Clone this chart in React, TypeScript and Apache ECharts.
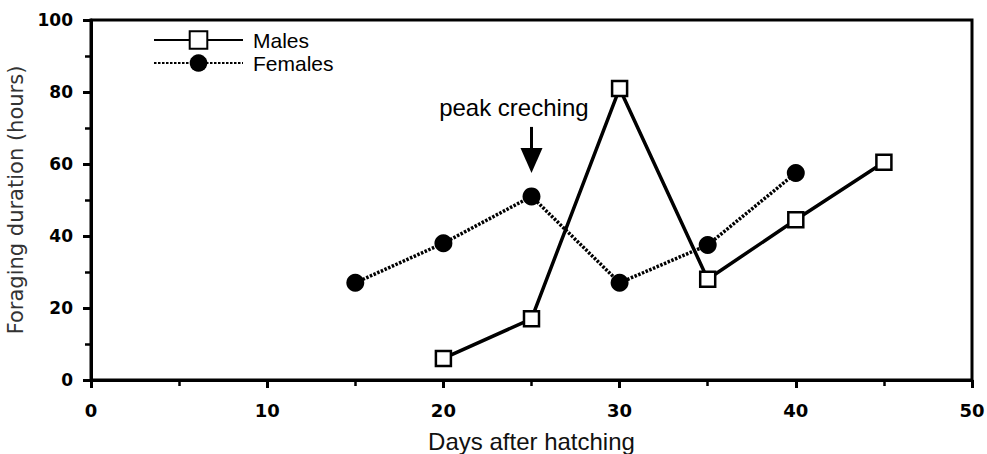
import React, { useEffect, useRef } from "react";
import * as echarts from "echarts";

const maleDays = [20, 25, 30, 35, 40, 45];
const maleHours = [6, 17, 81, 28, 44.5, 60.5];
const femaleDays = [15, 20, 25, 30, 35, 40];
const femaleHours = [27, 38, 51, 27, 37.5, 57.5];
const annotationText = "peak creching";
const annotationDay = 25;
const annotationTextDay = 24;
const annotationTextHours = 75.8;
const arrowTopHours = 70.3;
const arrowTipHours = 57.5;

export default function App() {
  const ref = useRef<HTMLDivElement>(null);
  useEffect(() => {
    if (!ref.current) return;
    document.body.style.margin = "0";
    const chart = echarts.init(ref.current, null, { renderer: "svg" });
    const font = "Liberation Sans, Arial, Helvetica, sans-serif";
    const numFont = "DejaVu Sans, Verdana, sans-serif";
    chart.setOption({
      animation: false,
      grid: {
        left: 91,
        right: 15,
        top: 20,
        bottom: 74,
        show: true,
        borderColor: "#000",
        borderWidth: 3,
        containLabel: false,
        outerBoundsMode: "none",
      },
      legend: {
        orient: "vertical",
        left: 148,
        top: 24,
        itemWidth: 89,
        itemHeight: 22,
        itemGap: 1,
        textStyle: {
          fontFamily: font,
          fontSize: 21,
          lineHeight: 22,
          color: "#000",
          padding: [0, 0, 0, 5],
        },
        data: ["Males", "Females"],
      },
      xAxis: {
        type: "value",
        min: 0,
        max: 50,
        interval: 10,
        name: "Days after hatching",
        nameLocation: "middle",
        nameGap: 49,
        nameTextStyle: { fontFamily: font, fontSize: 24, color: "#111" },
        axisLine: { show: true, lineStyle: { color: "#000", width: 3 } },
        axisTick: { show: true, length: 8, lineStyle: { color: "#000", width: 3 } },
        minorTick: { show: true, splitNumber: 2, length: 6, lineStyle: { color: "#000", width: 2.5 } },
        axisLabel: {
          fontFamily: numFont,
          fontSize: 18,
          fontWeight: "bold",
          color: "#000",
          margin: 21,
        },
        splitLine: { show: false },
      },
      yAxis: {
        type: "value",
        min: 0,
        max: 100,
        interval: 20,
        name: "Foraging duration (hours)",
        nameLocation: "middle",
        nameGap: 63,
        nameTextStyle: { fontFamily: numFont, fontSize: 21, color: "#333" },
        axisLine: { show: true, lineStyle: { color: "#000", width: 3 } },
        axisTick: { show: true, length: 8, lineStyle: { color: "#000", width: 3 } },
        minorTick: { show: true, splitNumber: 2, length: 6, lineStyle: { color: "#000", width: 2.5 } },
        axisLabel: {
          fontFamily: numFont,
          fontSize: 17,
          fontWeight: "bold",
          color: "#000",
          margin: 18,
        },
        splitLine: { show: false },
      },
      series: [
        {
          name: "Males",
          type: "line",
          data: maleDays.map((d, i) => [d, maleHours[i]]),
          symbol: "rect",
          symbolSize: 15,
          lineStyle: { color: "#000", width: 3.5, type: "solid" },
          itemStyle: { color: "#fff", borderColor: "#000", borderWidth: 2.5 },
          z: 3,
        },
        {
          name: "Females",
          type: "line",
          data: femaleDays.map((d, i) => [d, femaleHours[i]]),
          symbol: "circle",
          symbolSize: 18,
          lineStyle: { color: "#000", width: 3.5, type: [2.5, 1.5] },
          itemStyle: { color: "#000", borderColor: "#000", borderWidth: 0 },
          z: 2,
        },
      ],
    });

    const top = chart.convertToPixel({ gridIndex: 0 }, [annotationDay, arrowTopHours]);
    const tip = chart.convertToPixel({ gridIndex: 0 }, [annotationDay, arrowTipHours]);
    const textPos = chart.convertToPixel({ gridIndex: 0 }, [annotationTextDay, annotationTextHours]);
    const ax = top[0];
    const headH = 25;
    chart.setOption({
      graphic: [
        {
          type: "text",
          x: textPos[0],
          y: textPos[1],
          style: {
            text: annotationText,
            fontFamily: font,
            fontSize: 24,
            fill: "#000",
            align: "center",
            verticalAlign: "middle",
          },
        },
        {
          type: "line",
          shape: { x1: ax, y1: top[1], x2: ax, y2: tip[1] - headH + 2 },
          style: { stroke: "#000", lineWidth: 3 },
        },
        {
          type: "polygon",
          shape: {
            points: [
              [ax - 11, tip[1] - headH],
              [ax + 11, tip[1] - headH],
              [ax, tip[1]],
            ],
          },
          style: { fill: "#000" },
        },
      ],
    });
    return () => chart.dispose();
  }, []);
  return <div ref={ref} style={{ width: 987, height: 454 }} />;
}
